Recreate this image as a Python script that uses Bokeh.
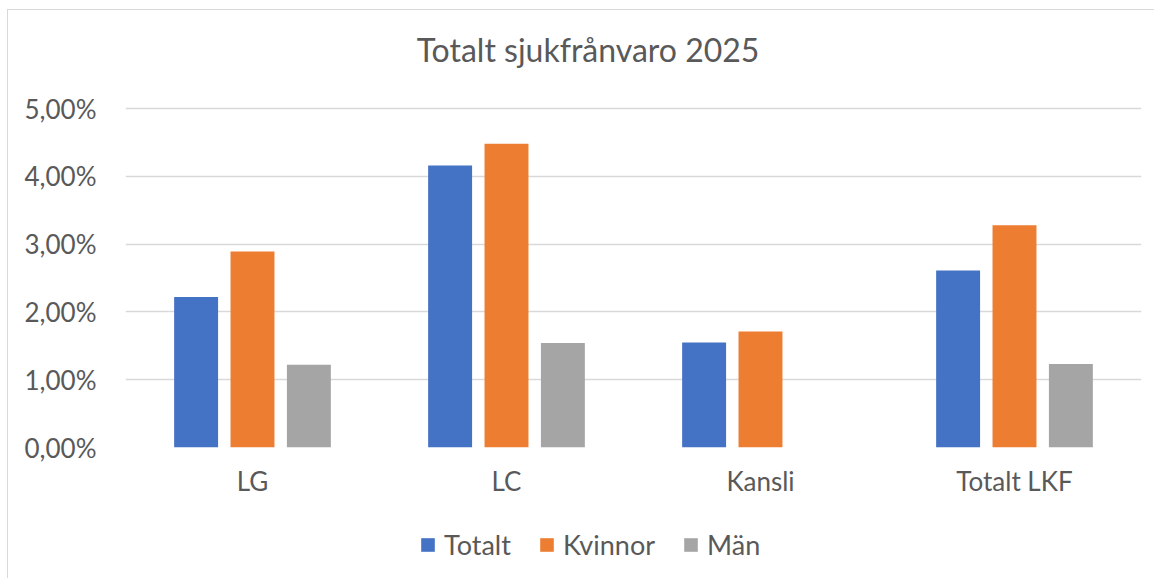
from bokeh.plotting import figure
from bokeh.layouts import column
from bokeh.models import FixedTicker, Legend, LegendItem, ColumnDataSource, Label
from bokeh.embed import file_html
from bokeh.resources import INLINE

# ---- data ----
categories = ["LG", "LC", "Kansli", "Totalt LKF"]
series_names = ["Totalt", "Kvinnor", "Män"]
totalt = [2.22, 4.16, 1.55, 2.61]
kvinnor = [2.89, 4.48, 1.71, 3.28]
man = [1.22, 1.54, 0.0, 1.23]
y_ticks = [0, 1, 2, 3, 4, 5]
y_tick_labels = ["0,00%", "1,00%", "2,00%", "3,00%", "4,00%", "5,00%"]
title_text = "Totalt sjukfrånvaro 2025"

colors = ["#4472C4", "#ED7D31", "#A5A5A5"]
FONT = "Lato"
TXT = "#595959"
BORDER = "1px solid #D9D9D9"
MBL, MBR = 117, 14


def strip(height, styles):
    f = figure(width=1147, height=height, output_backend="svg", toolbar_location=None,
               x_range=(0, 1), y_range=(0, 1), x_axis_location=None, y_axis_location=None,
               min_border_left=MBL, min_border_right=MBR, min_border_top=0, min_border_bottom=0)
    f.styles = styles
    f.grid.visible = False
    f.outline_line_color = None
    f.background_fill_color = "white"
    f.border_fill_color = "white"
    return f


# title strip
t = strip(71, {"border-top": BORDER, "border-left": BORDER})
t.add_layout(Label(x=462.5, y=32, x_units="screen", y_units="screen", text=title_text,
                   text_align="center", text_baseline="alphabetic",
                   text_font=FONT, text_font_size="32px", text_color=TXT))

# main chart
p = figure(width=1147, height=440, output_backend="svg", toolbar_location=None,
           x_range=(0, 4), y_range=(0, 5.03),
           min_border_left=MBL, min_border_right=MBR, min_border_top=26, min_border_bottom=73)
p.styles = {"border-left": BORDER}
p.outline_line_color = None
p.background_fill_color = "white"
p.border_fill_color = "white"

centers = [i + 0.5 for i in range(len(categories))]
offsets = [-0.222, 0.0, 0.222]
bar_w = 0.173
for vals, off, col in zip([totalt, kvinnor, man], offsets, colors):
    src = ColumnDataSource(dict(x=[c + off for c in centers], top=vals))
    p.vbar(x="x", top="top", bottom=0, width=bar_w, source=src,
           fill_color=col, line_color=None)

p.yaxis.ticker = FixedTicker(ticks=y_ticks)
p.yaxis.major_label_overrides = {t_: l for t_, l in zip(y_ticks, y_tick_labels)}
p.yaxis.axis_line_color = None
p.yaxis.major_tick_line_color = None
p.yaxis.minor_tick_line_color = None
p.yaxis.major_tick_out = 0
p.yaxis.major_label_standoff = 29
p.yaxis.major_label_text_font = FONT
p.yaxis.major_label_text_font_size = "26px"
p.yaxis.major_label_text_color = TXT

p.xaxis.ticker = FixedTicker(ticks=centers)
p.xaxis.major_label_overrides = {c: n for c, n in zip(centers, categories)}
p.xaxis.axis_line_color = None
p.xaxis.major_tick_line_color = None
p.xaxis.minor_tick_line_color = None
p.xaxis.major_tick_out = 0
p.xaxis.major_label_standoff = 17
p.xaxis.major_label_text_font = FONT
p.xaxis.major_label_text_font_size = "26px"
p.xaxis.major_label_text_color = TXT

p.xgrid.grid_line_color = None
p.ygrid.grid_line_color = "#D9D9D9"
p.ygrid.grid_line_width = 1.5

# legend strip (swatch carriers have zero height, so they draw nothing)
q = strip(58, {"border-left": BORDER})
swatches = [q.vbar(x=[0.5], top=[0], bottom=[0], width=0.01, fill_color=c, line_color=None)
            for c in colors]
legend = Legend(items=[LegendItem(label=n, renderers=[r]) for n, r in zip(series_names, swatches)],
                location=(294, 17), orientation="horizontal",
                glyph_width=17, glyph_height=17, label_standoff=8, spacing=27,
                padding=0, margin=0, border_line_color=None, background_fill_alpha=0,
                label_text_font=FONT, label_text_font_size="27px", label_text_color=TXT)
q.add_layout(legend, "center")

layout = column(t, p, q, spacing=0, styles={"margin-left": "7px", "margin-top": "9px"})

open("out.html", "w").write(file_html(layout, INLINE))
